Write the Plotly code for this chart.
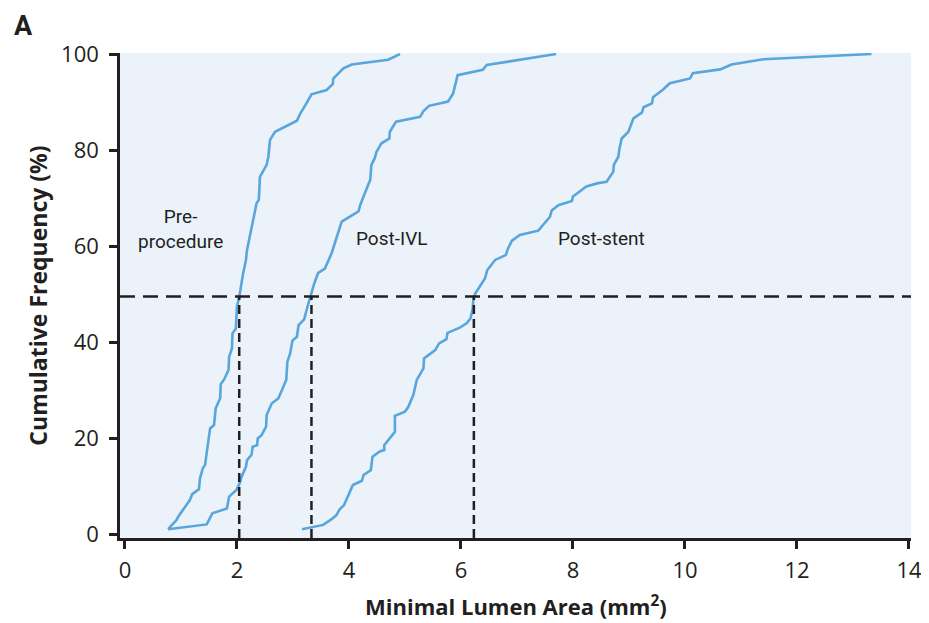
import plotly.graph_objects as go

# ---- data ----
pre_x = [0.77, 0.92, 0.95, 1.16, 1.20, 1.32, 1.34, 1.39, 1.43, 1.52, 1.59, 1.62, 1.70, 1.71, 1.77,
         1.85, 1.86, 1.91, 1.92, 1.98, 2.00, 2.04, 2.11, 2.16, 2.18, 2.23, 2.29, 2.35, 2.39, 2.41,
         2.53, 2.56, 2.59, 2.68, 3.07, 3.13, 3.24, 3.33, 3.60, 3.71, 3.72, 3.90, 4.05, 4.70, 4.91]
pre_y = [1.0, 2.9, 3.6, 7.1, 8.3, 9.3, 11.6, 13.7, 14.4, 22.0, 22.7, 26.2, 28.3, 31.2, 32.2,
         34.2, 36.9, 38.7, 41.8, 42.8, 47.4, 49.4, 54.3, 57.1, 59.2, 61.9, 65.4, 68.9, 69.6, 74.4,
         76.9, 78.6, 82.1, 83.8, 86.1, 87.6, 89.7, 91.6, 92.5, 93.7, 94.9, 97.0, 97.8, 98.8, 100.0]

ivl_x = [0.77, 1.46, 1.56, 1.82, 1.86, 1.99, 2.05, 2.08, 2.16, 2.18, 2.26, 2.28, 2.36, 2.37, 2.44,
         2.52, 2.53, 2.62, 2.74, 2.88, 2.90, 2.95, 2.99, 3.07, 3.10, 3.20, 3.26, 3.31, 3.38, 3.45,
         3.57, 3.69, 3.75, 3.78, 3.87, 4.17, 4.20, 4.26, 4.38, 4.40, 4.46, 4.49, 4.58, 4.72, 4.73,
         4.84, 5.27, 5.33, 5.43, 5.77, 5.86, 5.89, 5.94, 6.39, 6.46, 7.70]
ivl_y = [1.0, 2.0, 4.3, 5.3, 7.8, 9.2, 10.6, 11.9, 14.0, 15.4, 16.5, 18.2, 18.5, 19.9, 20.6,
         22.4, 24.8, 27.2, 28.3, 32.1, 35.9, 37.6, 40.3, 41.1, 43.5, 44.7, 47.4, 49.4, 52.2, 54.4,
         55.3, 58.5, 60.6, 61.9, 65.1, 67.2, 68.5, 70.3, 73.8, 76.9, 78.3, 79.6, 81.4, 82.4, 83.8,
         85.9, 86.9, 88.1, 89.2, 90.1, 91.8, 93.2, 95.6, 96.7, 97.7, 100.0]

stent_x = [3.16, 3.54, 3.69, 3.78, 3.83, 3.91, 3.99, 4.07, 4.23, 4.26, 4.39, 4.42, 4.55, 4.63, 4.63,
           4.76, 4.82, 4.82, 5.00, 5.06, 5.15, 5.21, 5.33, 5.34, 5.54, 5.61, 5.74, 5.76, 5.98, 6.10,
           6.17, 6.21, 6.22, 6.25, 6.43, 6.47, 6.61, 6.80, 6.84, 6.91, 7.05, 7.38, 7.59, 7.62, 7.74,
           7.98, 8.00, 8.24, 8.45, 8.60, 8.72, 8.73, 8.81, 8.83, 8.87, 8.99, 9.08, 9.23, 9.26, 9.41,
           9.43, 9.61, 9.73, 10.09, 10.14, 10.63, 10.83, 11.40, 12.11, 13.33]
stent_y = [1.0, 1.9, 3.1, 4.0, 5.1, 6.0, 8.1, 10.2, 11.1, 12.3, 13.3, 16.1, 17.2, 17.5, 18.5,
           20.3, 21.3, 24.6, 25.5, 26.5, 29.0, 32.1, 34.5, 36.6, 38.3, 39.7, 40.6, 41.9, 43.0, 43.9,
           44.9, 47.0, 48.7, 50.0, 53.3, 55.0, 57.1, 58.1, 59.5, 61.1, 62.3, 63.2, 66.1, 67.4, 68.5,
           69.4, 70.3, 72.4, 73.1, 73.4, 75.5, 76.9, 78.6, 80.3, 82.4, 83.8, 86.6, 87.8, 88.9, 89.7,
           91.0, 92.6, 93.9, 94.9, 96.0, 96.8, 97.8, 98.9, 99.3, 100.0]

median_x = [2.04, 3.33, 6.23]      # median MLA of each phase
median_pct = 49.5                  # cumulative frequency of the medians

series_names = ["Pre-<br>procedure", "Post-IVL", "Post-stent"]
x_ticks = [0, 2, 4, 6, 8, 10, 12, 14]
y_ticks = [0, 20, 40, 60, 80, 100]
x_title = "<b>Minimal Lumen Area (mm<sup>2</sup>)</b>"
y_title = "<b>Cumulative Frequency (%)</b>"

# ---- style / layout ----
LINE = "#58A6DC"
PANEL = "#EBF2FA"
INK = "#231F20"
X_RANGE = [-0.089, 14.036]
Y_RANGE = [-0.83, 100.21]
label_pos = [(0.99, 63.5), (4.76, 61.6), (8.51, 61.6)]

fig = go.Figure()

for xs, ys, name in zip([pre_x, ivl_x, stent_x], [pre_y, ivl_y, stent_y], series_names):
    fig.add_trace(go.Scatter(x=xs, y=ys, mode="lines", name=name.replace("<br>", ""),
                             line=dict(color=LINE, width=2.6), showlegend=False))

# horizontal median line
fig.add_trace(go.Scatter(x=[X_RANGE[0], X_RANGE[1]], y=[median_pct, median_pct], mode="lines",
                         line=dict(color=INK, width=2.5, dash="15px,8px"), showlegend=False))
# vertical median drop lines
for m in median_x:
    fig.add_trace(go.Scatter(x=[m, m], y=[Y_RANGE[0], median_pct], mode="lines",
                             line=dict(color=INK, width=2.5, dash="9px,5px"), showlegend=False))

for (lx, ly), name in zip(label_pos, series_names):
    fig.add_annotation(x=lx, y=ly, text=name, showarrow=False,
                       font=dict(family="Roboto", size=19, color=INK), align="center")

fig.add_annotation(xref="paper", yref="paper", x=-0.137, y=1.092, xanchor="left", yanchor="top",
                   text="<b>A</b>", showarrow=False,
                   font=dict(family="Roboto", size=27, color=INK))

# x axis title
fig.add_annotation(xref="paper", yref="paper", x=0.5, y=-0.140, xanchor="center", yanchor="middle",
                   text=x_title, showarrow=False,
                   font=dict(family="Open Sans", size=22, color=INK))

fig.update_layout(
    template="none",
    width=921, height=615,
    margin=dict(l=112, r=18, t=45, b=85, autoexpand=False),
    paper_bgcolor="white",
    plot_bgcolor=PANEL,
    font=dict(family="Roboto", color=INK),
)
fig.update_xaxes(range=X_RANGE, tickvals=x_ticks, ticktext=[str(v) for v in x_ticks],
                 automargin=False, ticklabeloverflow="allow",
                 showgrid=False, zeroline=False, showline=True, linecolor=INK, linewidth=2.5,
                 ticks="outside", ticklen=8, tickwidth=2.5, tickcolor=INK, ticklabelstandoff=3,
                 tickfont=dict(family="Open Sans", size=22, color=INK))
fig.update_yaxes(range=Y_RANGE, tickvals=y_ticks, ticktext=[str(v) for v in y_ticks],
                 automargin=False, ticklabeloverflow="allow",
                 showgrid=False, zeroline=False, showline=True, linecolor=INK, linewidth=2.5,
                 ticks="outside", ticklen=8, tickwidth=2.5, tickcolor=INK, ticklabelstandoff=6,
                 tickfont=dict(family="Open Sans", size=22, color=INK),
                 title=dict(text=y_title,
                            font=dict(family="Open Sans", size=23, color=INK), standoff=8))

fig.write_html("out.html")
